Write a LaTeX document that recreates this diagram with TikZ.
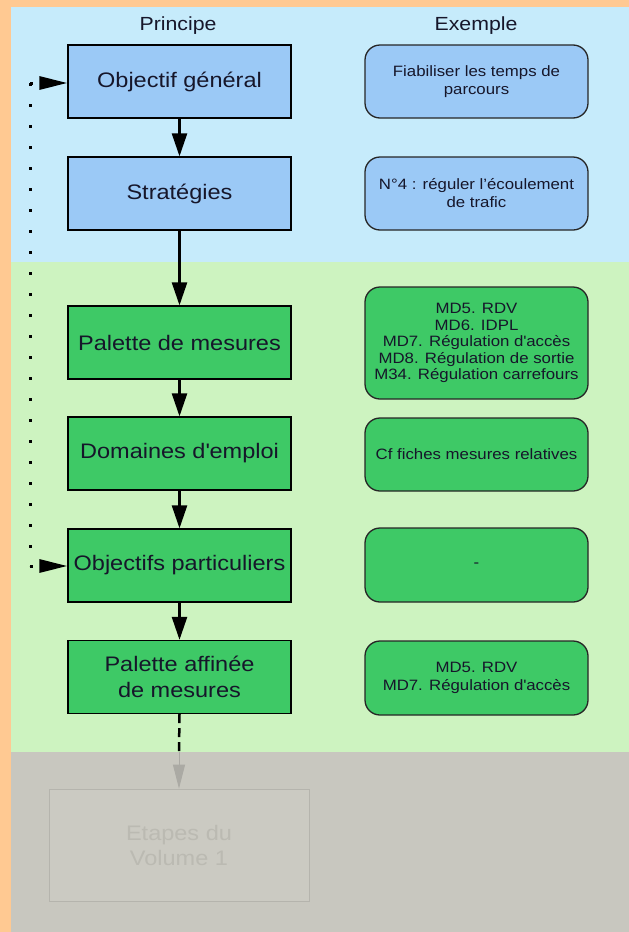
\documentclass[tikz,border=0pt]{standalone}
\usepackage{fontspec}
\setmainfont[FakeStretch=1.12]{Liberation Sans}
\usetikzlibrary{arrows.meta}
\definecolor{peach}{HTML}{FFC992}
\definecolor{bandblue}{HTML}{C6EBFB}
\definecolor{bandgreen}{HTML}{CDF3C0}
\definecolor{bandgrey}{HTML}{C8C7BF}
\definecolor{boxblue}{HTML}{9BC9F6}
\definecolor{boxgreen}{HTML}{3EC966}
\definecolor{inkdark}{HTML}{16162A}
\definecolor{greyedge}{HTML}{B5B4AD}
\definecolor{greyfill}{HTML}{CBCAC2}
\definecolor{greyink}{HTML}{BBBAB2}
\definecolor{greyarrow}{HTML}{ABAAA4}
\newcommand{\sq}{\textquotesingle}
\tikzset{
  lbox/.style={rectangle, draw=black, line width=1.3pt, minimum width=223pt,
    minimum height=73pt, inner sep=2pt, align=center, text=inkdark,
    font=\fontsize{21}{26}\selectfont},
  rbox/.style={rectangle, rounded corners=15pt, draw=black!85, line width=1.3pt,
    minimum width=223pt, minimum height=73pt, inner sep=2pt, align=center,
    text=inkdark, font=\fontsize{15}{18}\selectfont},
  heading/.style={text=inkdark, font=\fontsize{19}{22}\selectfont},
  flow/.style={line width=2.5pt, -{Triangle[length=23pt,width=15pt]}},
  dots/.style={line width=3pt, dash pattern=on 3pt off 18pt},
  feedback/.style={dots, -{Triangle[length=28pt,width=13pt]}},
  pending/.style={line width=2.5pt, dash pattern=on 9pt off 5pt},
  faded/.style={line width=1pt, draw=greyarrow,
    -{Triangle[length=24pt,width=12pt,fill=greyarrow]}}
}
\begin{document}
\begin{tikzpicture}[x=1pt,y=-1pt]
  % page background and the three bands
  \fill[peach] (0,0) rectangle (629,932);
  \fill[bandblue] (11,7) rectangle (629,262);
  \fill[bandgreen] (11,262) rectangle (629,752);
  \fill[bandgrey] (11,752) rectangle (629,932);
  \useasboundingbox (0,0) rectangle (629,932);

  % column headings
  \node[heading] (hp) at (178,26) {Principe};
  \node[heading] (he) at (476,26) {Exemple};

  % principle column
  \node[lbox, fill=boxblue]  (og) at (179.5,81.5)  {Objectif général};
  \node[lbox, fill=boxblue]  (st) at (179.5,193.5) {Stratégies};
  \node[lbox, fill=boxgreen] (pm) at (179.5,342.5) {Palette de mesures};
  \node[lbox, fill=boxgreen] (de) at (179.5,453.5) {Domaines d\sq emploi};
  \node[lbox, fill=boxgreen] (op) at (179.5,565.5) {Objectifs particuliers};
  \node[lbox, fill=boxgreen] (pa) at (179.5,677)   {Palette affinée\\de mesures};

  % example column
  \node[rbox, fill=boxblue] (eog) at (476.5,81.5) {Fiabiliser les temps de\\parcours};
  \node[rbox, fill=boxblue] (est) at (476.5,193.5) {N°4 : réguler l’écoulement\\de trafic};
  \node[rbox, fill=boxgreen, minimum height=112pt,
        font=\fontsize{15}{16.6}\selectfont] (epm) at (476.5,343)
        {MD5. RDV\\MD6. IDPL\\MD7. Régulation d\sq accès\\MD8. Régulation de sortie\\M34. Régulation carrefours};
  \node[rbox, fill=boxgreen] (ede) at (476.5,454.5) {Cf fiches mesures relatives};
  \node[rbox, fill=boxgreen, minimum height=74pt] (eop) at (476.5,565) {-};
  \node[rbox, fill=boxgreen, minimum height=74pt] (epa) at (476.5,678) {MD5. RDV\\MD7. Régulation d\sq accès};

  % next stage, greyed out
  \node[rectangle, draw=greyedge, fill=greyfill, line width=0.8pt,
        minimum width=260pt, minimum height=112pt, align=center, text=greyink,
        font=\fontsize{21}{25}\selectfont] (ev) at (179,845) {Etapes du\\Volume 1};

  % main flow
  \draw[flow] (og) -- (st);
  \draw[flow] (st) -- (pm);
  \draw[flow] (pm) -- (de);
  \draw[flow] (de) -- (op);
  \draw[flow] (op) -- (pa);
  \coordinate (cut) at (179,752);
  \draw[pending] (pa.south) -- (cut);
  \draw[faded] (cut) -- (ev.north);

  % feedback loop back to the general objective
  \coordinate (fbtop) at (30,83);
  \coordinate (fbbot) at (30,566);
  \draw[dots] (fbtop) -- (fbbot);
  \draw[feedback] (fbtop) -- (og.west |- fbtop);
  \draw[feedback] (fbbot) -- (op.west |- fbbot);
\end{tikzpicture}
\end{document}
